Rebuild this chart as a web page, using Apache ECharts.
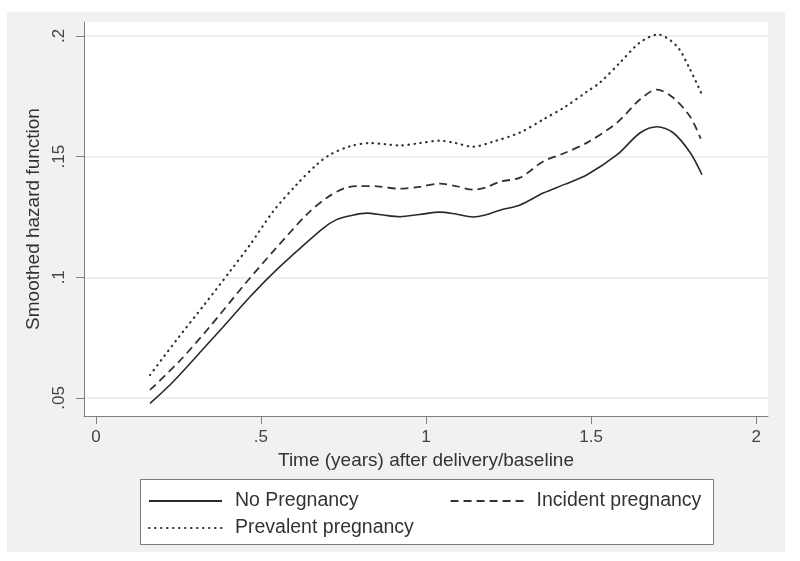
<!DOCTYPE html>
<html><head><meta charset="utf-8">
<script src="https://cdn.jsdelivr.net/npm/echarts@6/dist/echarts.min.js"></script>
<style>html,body{margin:0;padding:0;background:#fff}#c{width:800px;height:561px}</style>
</head><body><div id="c"></div>
<script>
// Time (years) and smoothed hazard values
const noPregT = [0.164,0.234,0.335,0.386,0.467,0.530,0.608,0.689,0.729,0.770,0.821,0.870,0.921,0.980,1.042,1.090,1.142,1.180,1.224,1.285,1.355,1.420,1.488,1.579,1.648,1.700,1.748,1.800,1.836];
const noPregV = [0.0477,0.0567,0.0718,0.0795,0.0919,0.1008,0.1107,0.1204,0.1239,0.1255,0.1266,0.1258,0.1251,0.1260,0.1270,0.1262,0.1250,0.1258,0.1278,0.1300,0.1349,0.1385,0.1425,0.1508,0.1598,0.1624,0.1600,0.1517,0.1425];
const incT = [0.164,0.255,0.345,0.452,0.537,0.638,0.699,0.755,0.800,0.852,0.921,0.980,1.042,1.090,1.142,1.180,1.224,1.285,1.355,1.420,1.488,1.579,1.648,1.700,1.748,1.800,1.832];
const incV = [0.0533,0.0655,0.0795,0.0973,0.1107,0.1259,0.1329,0.1370,0.1378,0.1377,0.1367,0.1375,0.1388,0.1378,0.1363,0.1372,0.1396,0.1413,0.1480,0.1515,0.1558,0.1641,0.1737,0.1778,0.1745,0.1666,0.1575];
const prevT = [0.164,0.250,0.330,0.406,0.467,0.537,0.608,0.669,0.709,0.770,0.830,0.880,0.921,0.980,1.042,1.090,1.142,1.203,1.285,1.355,1.420,1.488,1.527,1.588,1.648,1.703,1.761,1.800,1.836];
const prevV = [0.0595,0.0750,0.0889,0.1024,0.1135,0.1273,0.1384,0.1467,0.1508,0.1543,0.1556,0.1551,0.1546,0.1556,0.1566,0.1556,0.1541,0.1562,0.1600,0.1654,0.1705,0.1770,0.1807,0.1890,0.1973,0.2006,0.1956,0.1861,0.1757];
const seriesNames = ['No Pregnancy','Incident pregnancy','Prevalent pregnancy'];
const xTicks = [0,0.5,1,1.5,2];
const yTicks = [0.05,0.1,0.15,0.2];
const fmt = v => { let s = String(+v.toFixed(3)); return s.startsWith('0.') ? s.slice(1) : s; };
const pairs = (t, v) => t.map((x, i) => [x, v[i]]);

const chart = echarts.init(document.getElementById('c'), null, {renderer:'canvas'});
const FONT = 'Liberation Sans, Arial, sans-serif';
const legendText = {fontSize:19.5, color:'#333', fontFamily:FONT, padding:[0,0,0,8], lineHeight:20};
chart.setOption({
  backgroundColor: '#ffffff',
  animation: false,
  graphic: [
    {type:'rect', z:-10, shape:{x:7,y:12,width:778,height:540}, style:{fill:'#f1f1f1'}},
    {type:'rect', z:-9, shape:{x:84,y:22,width:684,height:394}, style:{fill:'#ffffff'}},
    {type:'rect', z:-9, shape:{x:140.5,y:479.5,width:573,height:65}, style:{fill:'#ffffff', stroke:'#7a7a7a', lineWidth:1}}
  ],
  grid: {left:84, top:22, right:32, bottom:145, containLabel:false},
  xAxis: {
    type:'value', min:-0.036, max:2.036,
    name:'Time (years) after delivery/baseline', nameLocation:'middle', nameGap:27,
    nameTextStyle:{fontSize:19, color:'#333', fontFamily:FONT},
    axisLine:{show:true, onZero:false, lineStyle:{color:'#808080', width:1}},
    axisTick:{show:true, length:8, customValues:xTicks, lineStyle:{color:'#808080'}},
    axisLabel:{customValues:xTicks, formatter:fmt, fontSize:17, color:'#444', margin:13, fontFamily:FONT},
    splitLine:{show:false}
  },
  yAxis: {
    type:'value', min:0.0425, max:0.2058,
    name:'Smoothed hazard function', nameLocation:'middle', nameGap:36, nameRotate:90,
    nameTextStyle:{fontSize:19, color:'#333', fontFamily:FONT},
    axisLine:{show:true, onZero:false, lineStyle:{color:'#808080', width:1}},
    axisTick:{show:true, length:8, customValues:yTicks, lineStyle:{color:'#808080'}},
    axisLabel:{customValues:yTicks, formatter:fmt, fontSize:17, color:'#444', margin:16, rotate:90, fontFamily:FONT},
    splitLine:{show:true, lineStyle:{color:'#e8e8e8', width:1.5}}
  },
  legend: [
    {data:[seriesNames[0], seriesNames[1]], left:148, top:491, itemWidth:73, itemHeight:14, itemGap:91, selectedMode:false, padding:0,
     itemStyle:{opacity:0, borderWidth:0}, textStyle:legendText},
    {data:[seriesNames[2]], left:148, top:518, itemWidth:73, itemHeight:14, selectedMode:false, padding:0,
     itemStyle:{opacity:0, borderWidth:0}, textStyle:legendText}
  ],
  series: [
    {name:seriesNames[0], type:'line', data:pairs(noPregT,noPregV), smooth:0.3, symbol:'none',
     lineStyle:{color:'#2a2a2a', width:1.6, type:'solid'}, itemStyle:{color:'#2a2a2a'}},
    {name:seriesNames[1], type:'line', data:pairs(incT,incV), smooth:0.3, symbol:'none',
     lineStyle:{color:'#333333', width:1.8, type:[8,5]}, itemStyle:{color:'#333333'}},
    {name:seriesNames[2], type:'line', data:pairs(prevT,prevV), smooth:0.3, symbol:'none',
     lineStyle:{color:'#333333', width:2.2, type:[0.5,5.5], cap:'round'}, itemStyle:{color:'#333333'}}
  ]
});
</script></body></html>
